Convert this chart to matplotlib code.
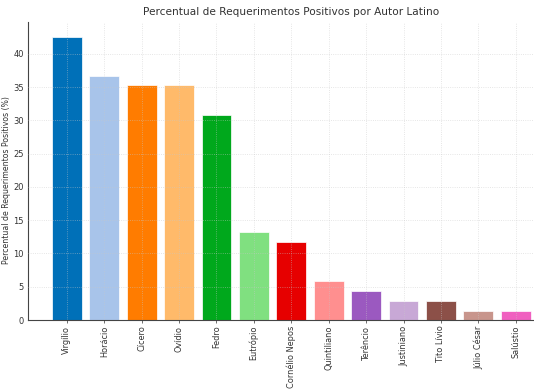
import matplotlib
matplotlib.use("Agg")
import matplotlib.pyplot as plt

autores = ["Virgílio", "Horácio", "Cícero", "Ovídio", "Fedro", "Eutrópio",
           "Cornélio Nepos", "Quintiliano", "Terêncio", "Justiniano",
           "Tito Lívio", "Júlio César", "Salústio"]
percentuais = [42.6, 36.7, 35.3, 35.3, 30.8, 13.2, 11.7, 5.8, 4.3, 2.8, 2.8, 1.4, 1.4]
cores = ["#0070b8", "#a8c4ea", "#ff7c00", "#ffba6a", "#00a81c", "#80e080",
         "#e60000", "#ff8f8f", "#9b59c0", "#c8a8d6", "#8c5048", "#c8958c", "#f060c0"]

txt = "#333333"
fig = plt.figure(figsize=(5.34, 3.92), dpi=100)
ax = fig.add_axes([28/534, (392-320)/392, 526.6/534, 298/392])

x = list(range(len(autores)))
ax.bar(x, percentuais, width=0.8, color=cores, edgecolor="white", linewidth=0.5, zorder=2)
ax.set_xlim(-1.04, 13.04)
ax.set_ylim(0, 44.8)
ax.set_xticks(x)
ax.set_xticklabels(autores, rotation=90, fontsize=5.9, color=txt)
ax.set_yticks([0, 5, 10, 15, 20, 25, 30, 35, 40])
ax.tick_params(axis="y", labelsize=6, colors=txt, length=0, pad=3)
ax.tick_params(axis="x", colors=txt, length=2, width=0.5, pad=2)
ax.grid(True, linestyle=":", color="#c8c8c8", alpha=0.6, linewidth=0.6, zorder=3)
ax.set_axisbelow(False)
for s in ["top", "right"]:
    ax.spines[s].set_visible(False)
for s in ["left", "bottom"]:
    ax.spines[s].set_color("#444444")
    ax.spines[s].set_linewidth(0.8)
ax.set_title("Percentual de Requerimentos Positivos por Autor Latino", fontsize=7.6, color=txt, pad=5)
ax.set_ylabel("Percentual de Requerimentos Positivos (%)", fontsize=5.6, color=txt)
ax.yaxis.set_label_coords(-0.032, 0.47)
fig.savefig("out.png", dpi=100)
